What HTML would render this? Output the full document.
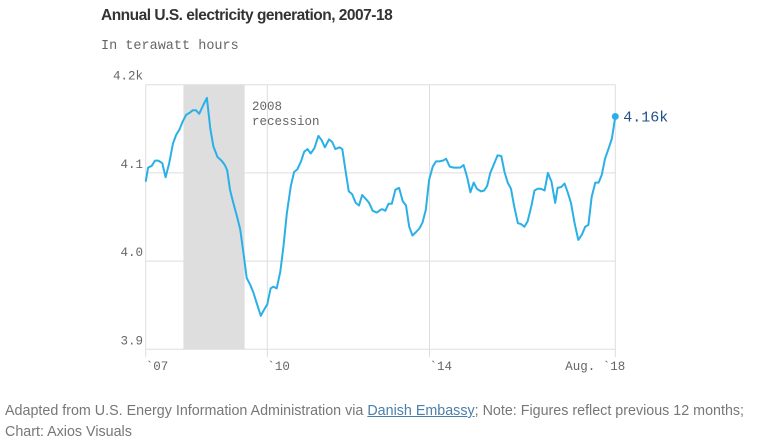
<!DOCTYPE html>
<html><head><meta charset="utf-8">
<style>
body{margin:0;background:#fff;width:765px;height:445px;overflow:hidden;font-family:"Liberation Sans",sans-serif}
.title{position:absolute;left:101px;top:7px;font-size:15.5px;font-weight:bold;color:#333;letter-spacing:-0.5px}
.sub{position:absolute;left:101px;top:39px;font-family:"Liberation Mono",monospace;font-size:13.5px;color:#666}
.foot{position:absolute;left:5px;top:401px;width:760px;font-size:14.3px;line-height:21px;color:#777;white-space:nowrap}
.foot u{color:#4a7fa8;text-decoration:underline}
</style></head><body>
<div class="title">Annual U.S. electricity generation, 2007-18</div>
<div class="sub">In terawatt hours</div>
<svg id="chart" width="765" height="445" style="position:absolute;left:0;top:0"></svg>
<div class="foot">Adapted from U.S. Energy Information Administration via <u>Danish Embassy</u>; Note: Figures reflect previous 12 months;<br>Chart: Axios Visuals</div>
<script>
const years=[2007.00,2007.06,2007.15,2007.23,2007.31,2007.41,2007.49,2007.58,2007.67,2007.75,2007.83,2007.91,2008.00,2008.08,2008.16,2008.24,2008.32,2008.42,2008.51,2008.59,2008.67,2008.77,2008.87,2008.95,2009.01,2009.08,2009.16,2009.25,2009.33,2009.40,2009.49,2009.58,2009.66,2009.74,2009.84,2009.92,2010.00,2010.08,2010.15,2010.23,2010.32,2010.40,2010.48,2010.58,2010.66,2010.74,2010.83,2010.91,2010.99,2011.07,2011.16,2011.26,2011.34,2011.42,2011.52,2011.60,2011.68,2011.78,2011.85,2011.95,2012.01,2012.09,2012.18,2012.26,2012.34,2012.44,2012.51,2012.60,2012.70,2012.79,2012.83,2012.91,2012.99,2013.07,2013.16,2013.25,2013.34,2013.42,2013.50,2013.58,2013.67,2013.75,2013.83,2013.91,2013.99,2014.08,2014.16,2014.24,2014.33,2014.41,2014.50,2014.60,2014.68,2014.76,2014.84,2014.93,2015.01,2015.09,2015.17,2015.27,2015.35,2015.42,2015.50,2015.58,2015.68,2015.77,2015.85,2015.93,2016.01,2016.09,2016.18,2016.26,2016.34,2016.42,2016.51,2016.59,2016.67,2016.75,2016.84,2016.92,2017.01,2017.10,2017.16,2017.25,2017.33,2017.41,2017.49,2017.58,2017.67,2017.76,2017.84,2017.92,2018.00,2018.09,2018.17,2018.25,2018.33,2018.42,2018.50,2018.583];
const values=[4.090,4.106,4.108,4.114,4.114,4.111,4.095,4.111,4.133,4.143,4.149,4.158,4.166,4.168,4.171,4.171,4.167,4.177,4.185,4.151,4.130,4.118,4.114,4.109,4.103,4.081,4.066,4.051,4.036,4.013,3.981,3.973,3.964,3.952,3.938,3.945,3.951,3.969,3.971,3.969,3.988,4.017,4.054,4.085,4.101,4.104,4.113,4.124,4.127,4.122,4.128,4.142,4.137,4.129,4.138,4.135,4.127,4.129,4.127,4.096,4.079,4.076,4.066,4.063,4.075,4.070,4.066,4.057,4.055,4.058,4.059,4.057,4.065,4.065,4.081,4.083,4.068,4.063,4.039,4.029,4.033,4.037,4.044,4.058,4.092,4.107,4.113,4.113,4.114,4.116,4.107,4.106,4.106,4.106,4.109,4.095,4.078,4.089,4.082,4.079,4.080,4.085,4.100,4.109,4.120,4.119,4.101,4.089,4.082,4.062,4.043,4.042,4.039,4.045,4.062,4.080,4.082,4.082,4.080,4.100,4.090,4.066,4.083,4.084,4.088,4.078,4.066,4.043,4.024,4.030,4.039,4.041,4.073,4.089,4.089,4.098,4.116,4.128,4.139,4.164];
const yTicks=[4.2,3.9,4.1,4.0];
const yTickLabels=["4.2k","3.9","4.1","4.0"];
const xTicks=[2007,2010,2014,2018.583];
const xTickLabels=["`07","`10","`14","Aug. `18"];
const recession=[2007.93,2009.44];
const lastLabel="4.16k";

const X0=145.7,X1=615.3,Y0=84.7,Y1=349.3;
const x=v=>X0+(v-2007)/(2018.583-2007)*(X1-X0);
const y=v=>Y0+(4.2-v)/(0.3)*(Y1-Y0);
const svg=document.getElementById('chart');
const NS='http://www.w3.org/2000/svg';
function mk(t,a){const e=document.createElementNS(NS,t);for(const k in a)e.setAttribute(k,a[k]);svg.appendChild(e);return e;}
let r=mk('rect',{x:x(recession[0]),y:Y0,width:x(recession[1])-x(recession[0]),height:Y1-Y0,fill:'#dedede'});


yTicks.forEach((t,i)=>{
 const l=mk('line',{x1:X0,x2:X1,y1:y(t),y2:y(t),stroke:'#ddd','stroke-width':1});
 
 
 const tx=mk('text',{x:143,y:y(t)-5,'text-anchor':'end','font-family':'Liberation Mono,monospace','font-size':12.5,fill:'#666'});
 tx.textContent=yTickLabels[i];
 
 
});
xTicks.forEach((t,i)=>{
 const l=mk('line',{x1:x(t),x2:x(t),y1:Y0,y2:Y1+8,stroke:'#ddd','stroke-width':1});
 
 
 const last=i===xTicks.length-1;
 const tx=mk('text',{x:last?x(t)+10:x(t),y:370,'text-anchor':last?'end':'start','font-family':'Liberation Mono,monospace','font-size':12.5,fill:'#666'});
 tx.textContent=xTickLabels[i];
 
 
});
const ann=mk('text',{x:252,y:110,'font-family':'Liberation Mono,monospace','font-size':12.5,fill:'#666'});
ann.innerHTML='<tspan x="252">2008</tspan><tspan x="252" dy="15">recession</tspan>';


const p=mk('polyline',{points:years.map((v,i)=>x(v).toFixed(1)+','+y(values[i]).toFixed(1)).join(' '),fill:'none',stroke:'#2ab0e6','stroke-width':2,'stroke-linejoin':'round'});


const n=years.length-1;
const d=mk('circle',{cx:x(years[n]),cy:y(values[n]),r:3.5,fill:'#2ab0e6'});


const lt=mk('text',{x:x(years[n])+8,y:y(values[n])+5,'font-family':'Liberation Mono,monospace','font-size':15,fill:'#1d4f86'});
lt.textContent=lastLabel;


</script>
</body></html>
